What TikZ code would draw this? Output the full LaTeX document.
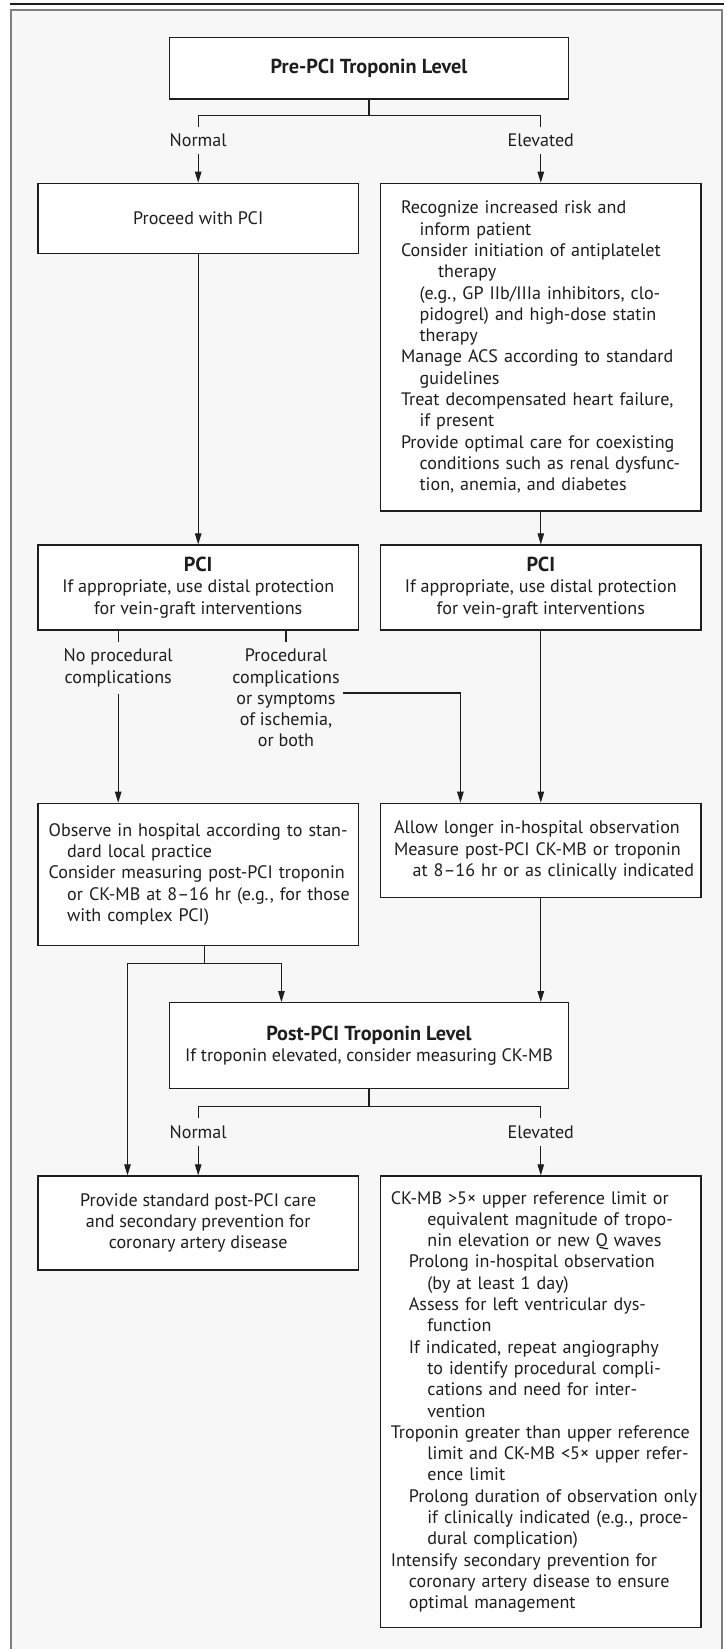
\documentclass[tikz,border=0pt]{standalone}
\usepackage{fontspec}
\setmainfont{PT Sans}
\usetikzlibrary{arrows.meta,calc}
\definecolor{framegray}{HTML}{7F7F7F}
\definecolor{bggray}{HTML}{F7F7F7}
\definecolor{ink}{HTML}{1E1E1E}
\newcommand{\lnind}[2]{\hspace*{#1pt}\mbox{#2}}
\newlength\calw
\settowidth\calw{\normalfont\fontsize{10}{12}\selectfont Recognize increased risk and}
\pgfmathsetmacro\rsz{10*221.7/\calw}
\settowidth\calw{\normalfont\bfseries\fontsize{10}{12}\selectfont Pre-PCI Troponin Level}
\pgfmathsetmacro\bsz{10*196.7/\calw}
\newcommand{\hd}[1]{{\fontsize{\bsz}{21.3}\selectfont\bfseries #1}}
\begin{document}
\begin{tikzpicture}[x=1pt,y=-1pt,
  font=\fontsize{\rsz}{21.3}\selectfont,
  box/.style={draw=ink,line width=1.3pt,fill=white,inner sep=0pt,text=ink},
  colbox/.style={box,minimum width=320.4pt},
  lbl/.style={inner xsep=1pt,inner ysep=7pt,anchor=north,align=center,text=ink},
  conn/.style={draw=ink,line width=1.1pt},
  arr/.style={conn,-{Triangle[length=11pt,width=6.5pt]}},
]
\useasboundingbox (0,0) rectangle (727,1649);
% frame
\fill[bggray] (11,9.5) rectangle (722,1660);
\draw[framegray,line width=2pt] (11,1660) -- (11,9.5) -- (722,9.5) -- (722,1660);
\draw[ink,line width=2pt] (10,4) -- (724,4);

% boxes
\node[box,minimum width=399.6pt,minimum height=61.3pt,align=center] (A) at (369,68.3) {\hd{Pre-PCI Troponin Level}};
\node[colbox,minimum height=70pt,align=center] (B) at (198.2,218.3) {Proceed with PCI};
\node[colbox,minimum height=327.7pt,align=left,text width=279.6pt] (C) at (540.8,347.2)
 {\lnind{0}{Recognize increased risk and}\\
  \lnind{18.6}{inform patient}\\
  \lnind{0}{Consider initiation of antiplatelet}\\
  \lnind{37}{therapy}\\
  \lnind{18.6}{(e.g., GP IIb/IIIa inhibitors, clo-}\\
  \lnind{18.6}{pidogrel) and high-dose statin}\\
  \lnind{18.6}{therapy}\\
  \lnind{0}{Manage ACS according to standard}\\
  \lnind{18.6}{guidelines}\\
  \lnind{0}{Treat decompensated heart failure,}\\
  \lnind{18.6}{if present}\\
  \lnind{0}{Provide optimal care for coexisting}\\
  \lnind{18.6}{conditions such as renal dysfunc-}\\
  \lnind{18.6}{tion, anemia, and diabetes}};
\node[colbox,minimum height=85pt,align=center] (D) at (198.2,587.5)
 {\hd{PCI}\\If appropriate, use distal protection\\for vein-graft interventions};
\node[colbox,minimum height=85pt,align=center] (E) at (540.8,587.5)
 {\hd{PCI}\\If appropriate, use distal protection\\for vein-graft interventions};
\node[colbox,minimum height=142pt,align=left,text width=299pt] (F) at (198.2,874.3)
 {\lnind{0}{Observe in hospital according to stan-}\\
  \lnind{18.5}{dard local practice}\\
  \lnind{0}{Consider measuring post-PCI troponin}\\
  \lnind{18.5}{or CK-MB at 8–16 hr (e.g., for those}\\
  \lnind{18.5}{with complex PCI)}};
\node[colbox,minimum height=94.4pt,align=left,text width=293.6pt] (G) at (540.8,850.5)
 {\lnind{0}{Allow longer in-hospital observation}\\
  \lnind{0}{Measure post-PCI CK-MB or troponin}\\
  \lnind{18.6}{at 8–16 hr or as clinically indicated}};
\node[box,minimum width=399.6pt,minimum height=85.6pt,align=center] (H) at (369,1045.5)
 {\hd{Post-PCI Troponin Level}\\If troponin elevated, consider measuring CK-MB};
\node[colbox,minimum height=94pt,align=center] (I) at (198.2,1223)
 {Provide standard post-PCI care\\and secondary prevention for\\coronary artery disease};
\node[colbox,minimum height=451.7pt,align=left,text width=300pt] (J) at (540.8,1401.85)
 {\lnind{0}{CK-MB >5× upper reference limit or}\\
  \lnind{36.6}{equivalent magnitude of tropo-}\\
  \lnind{36.6}{nin elevation or new Q waves}\\
  \lnind{18.1}{Prolong in-hospital observation}\\
  \lnind{36.6}{(by at least 1 day)}\\
  \lnind{18.1}{Assess for left ventricular dys-}\\
  \lnind{36.6}{function}\\
  \lnind{18.1}{If indicated, repeat angiography}\\
  \lnind{36.6}{to identify procedural compli-}\\
  \lnind{36.6}{cations and need for inter-}\\
  \lnind{36.6}{vention}\\
  \lnind{0}{Troponin greater than upper reference}\\
  \lnind{36.6}{limit and CK-MB <5× upper refer-}\\
  \lnind{36.6}{ence limit}\\
  \lnind{18.1}{Prolong duration of observation only}\\
  \lnind{36.6}{if clinically indicated (e.g., proce-}\\
  \lnind{36.6}{dural complication)}\\
  \lnind{0}{Intensify secondary prevention for}\\
  \lnind{18.1}{coronary artery disease to ensure}\\
  \lnind{18.1}{optimal management}};

% labels
\node[lbl] (n1) at (198.2,126.7) {Normal};
\node[lbl] (e1) at (540.8,126.7) {Elevated};
\node[lbl] (np) at (118.2,641.7) {No procedural\\complications};
\node[lbl] (pc) at (286,641.7) {Procedural\\complications\\or symptoms\\of ischemia,\\or both};
\node[lbl] (n2) at (198.2,1118.3) {Normal};
\node[lbl] (e2) at (540.8,1118.3) {Elevated};

% connectors
\coordinate (a1) at ($(A.south)+(0,16)$);
\draw[conn] (A.south) -- (a1);
\draw[conn] (n1.north) |- (a1) -| (e1.north);
\draw[arr] (n1.south) -- (B.north);
\draw[arr] (e1.south) -- (C.north);
\draw[arr] (B.south) -- (D.north);
\draw[arr] (C.south) -- (E.north);
\draw[conn] (np.north |- D.south) -- (np.north);
\draw[conn] (pc.north |- D.south) -- (pc.north);
\draw[arr] (np.south) -- (np.south |- F.north);
\coordinate (pl) at (343,693);
\draw[arr] (pl) -| ([xshift=-80.4pt]G.north);
\draw[arr] (E.south) -- (G.north);
\coordinate (f0) at ([xshift=6.3pt]F.south);
\coordinate (fj) at ($(f0)+(0,17.4)$);
\draw[conn] (f0) -- (fj);
\draw[arr] (fj) -| ([xshift=-70.7pt]I.north);
\draw[arr] (fj) -| ([xshift=-87.6pt]H.north);
\draw[arr] (G.south) -- (H.north -| G.south);
\coordinate (h1) at ($(H.south)+(0,17.4)$);
\draw[conn] (H.south) -- (h1);
\draw[conn] (n2.north) |- (h1) -| (e2.north);
\draw[arr] (n2.south) -- (I.north);
\draw[arr] (e2.south) -- (J.north);
\end{tikzpicture}
\end{document}
